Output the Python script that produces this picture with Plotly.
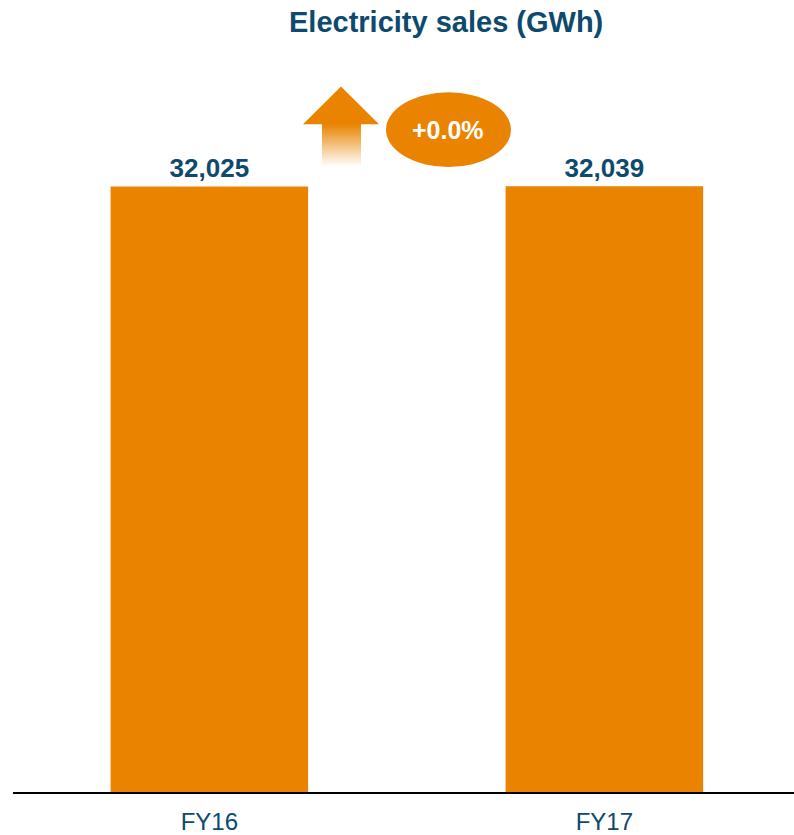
import plotly.graph_objects as go

# ---- data ----
categories = ["FY16", "FY17"]
sales_gwh = [32025, 32039]
change_label = "+0.0%"
title_text = "Electricity sales (GWh)"

ORANGE = "#E98300"
ORANGE_RGB = (233, 131, 0)
NAVY = "#0D4A6E"
FONT = "Liberation Sans, Arial, sans-serif"

W, H = 794, 835
L, R, T, B = 13, 0, 60, 40
PW, PH = W - L - R, H - T - B


def px(x):
    return (x - L) / PW


def py(y):
    return (H - B - y) / PH


fig = go.Figure()
fig.add_trace(go.Bar(
    x=[0, 1], y=sales_gwh, width=0.5,
    marker=dict(color=ORANGE, line=dict(width=0)),
    texttemplate="%{y:,}", textposition="outside",
    textfont=dict(family=FONT, size=26, color=NAVY, weight="bold"),
    cliponaxis=False, hoverinfo="skip",
))

shapes = []
# arrow head
shapes.append(dict(
    type="path", xref="paper", yref="paper",
    path=f"M {px(303)},{py(124.5)} L {px(341)},{py(86.5)} L {px(379)},{py(124.5)} Z",
    fillcolor=ORANGE, line=dict(width=0)))
# arrow body with vertical fade to white
y0, y1 = 124, 167
n = y1 - y0
for i in range(n):
    t = (i + 0.5) / n
    r, g, b = [round(c + (255 - c) * t) for c in ORANGE_RGB]
    shapes.append(dict(
        type="rect", xref="paper", yref="paper",
        x0=px(322), x1=px(361), y0=py(y0 + i + 1.5), y1=py(y0 + i),
        fillcolor=f"rgb({r},{g},{b})", line=dict(width=0)))
# ellipse
shapes.append(dict(
    type="circle", xref="paper", yref="paper",
    x0=px(386), x1=px(511), y0=py(167.5), y1=py(92.5),
    fillcolor=ORANGE, line=dict(width=0)))

annotations = [
    dict(text=f"<b>{change_label}</b>", xref="paper", yref="paper",
         x=px(448.5), y=py(130), showarrow=False,
         font=dict(family=FONT, size=25, color="white"),
         xanchor="center", yanchor="middle"),
    dict(text=f"<b>{title_text}</b>", xref="paper", yref="paper",
         x=px(445.5), y=py(22), showarrow=False,
         font=dict(family=FONT, size=29, color=NAVY),
         xanchor="center", yanchor="middle"),
]

fig.update_layout(
    width=W, height=H,
    margin=dict(l=L, r=R, t=T, b=B, pad=0),
    paper_bgcolor="white", plot_bgcolor="white",
    showlegend=False, hovermode=False,
    shapes=shapes, annotations=annotations,
    xaxis=dict(
        range=[-0.497, 1.48], tickmode="array", tickvals=[0, 1],
        ticktext=categories, showgrid=False, zeroline=False,
        showline=True, linecolor="black", linewidth=2,
        ticks="", tickfont=dict(family=FONT, size=24, color=NAVY),
        ticklabelstandoff=7, fixedrange=True,
    ),
    yaxis=dict(range=[0, 38714], visible=False, showgrid=False,
               zeroline=False, fixedrange=True),
)

fig.write_html(
    "out.html",
    config={"displayModeBar": False, "staticPlot": True},
    post_script="document.body.style.margin='0';document.body.style.overflow='hidden';",
)
